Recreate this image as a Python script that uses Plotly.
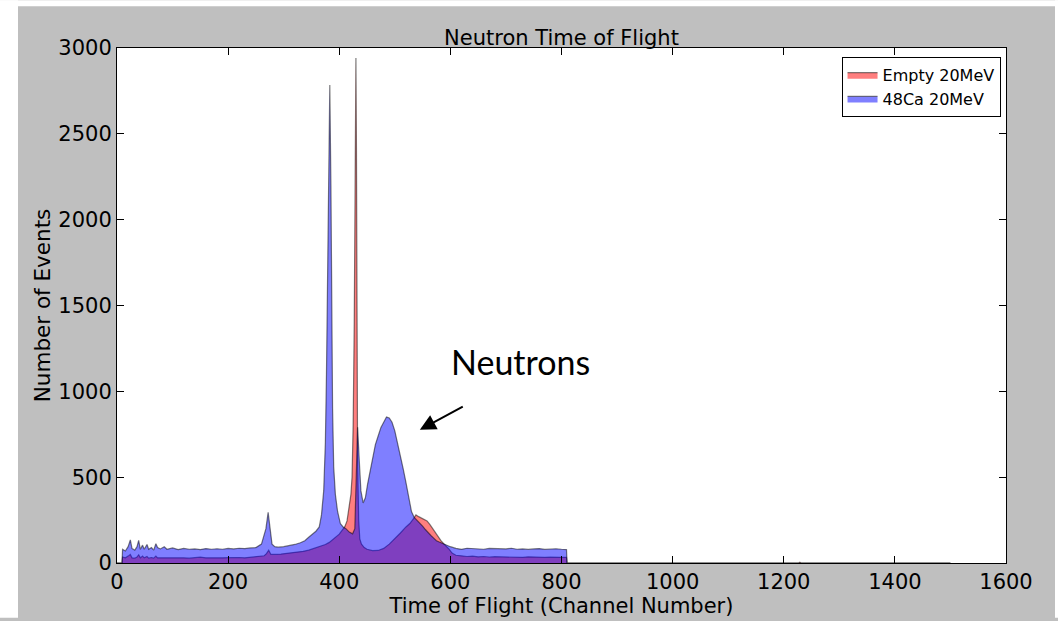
import plotly.graph_objects as go

# Channel and counts (outline vertices of each histogram)
empty_ch = [0, 9, 10, 15, 20, 24, 27, 32, 36, 39, 42, 46, 49, 54, 57, 62, 66, 70, 73, 80, 90, 100, 110, 120,
            130, 140, 150, 160, 170, 180, 190, 200, 210, 220, 230, 240, 250, 258, 265, 269, 273, 277, 282, 288,
            295, 305, 315, 325, 335, 345, 355, 365, 375, 382, 388, 394, 400, 405, 410, 414, 418, 421, 423,
            425, 427, 429, 430, 431, 432, 433, 435, 437, 440, 445, 450, 455, 460, 470, 480, 490, 500, 510,
            520, 527, 533, 538, 543, 548, 553, 558, 563, 568, 573, 578, 583, 588, 593, 598, 603, 610,
            620, 630, 640, 650, 660, 670, 680, 690, 700, 710, 720, 730, 740, 750, 760, 770, 780, 790, 800,
            809, 810, 1227, 1229, 1231, 1500]
empty_counts = [0, 0, 35, 30, 40, 50, 30, 28, 35, 48, 30, 40, 30, 38, 28, 32, 28, 40, 30, 30, 33, 29, 32, 30,
                28, 31, 34, 30, 29, 32, 30, 31, 33, 32, 30, 33, 36, 38, 42, 55, 75, 50, 48, 50,
                52, 55, 58, 62, 68, 75, 85, 95, 108, 120, 135, 150, 168, 190, 212, 245, 320, 400, 500,
                800, 1400, 2300, 2942, 2400, 1300, 600, 250, 140, 110, 90, 80, 75, 72, 73, 85, 110, 140, 175,
                210, 230, 255, 280, 270, 262, 255, 245, 225, 200, 175, 150, 130, 112, 98, 80, 58, 45,
                42, 38, 40, 36, 38, 35, 37, 36, 34, 37, 35, 33, 36, 34, 35, 33, 34, 32, 33,
                33, 0, 0, 4, 0, 0]

ca48_ch = [0, 9, 10, 15, 20, 24, 27, 32, 36, 39, 42, 46, 49, 54, 57, 62, 66, 70, 73, 78, 85, 90, 100,
           110, 120, 130, 140, 150, 160, 170, 180, 190, 200, 210, 220, 230, 240, 250, 260, 268,
           272, 276, 279, 284, 290, 300, 310, 320, 330, 338, 345, 352, 358, 364, 368, 372, 375,
           377, 379, 381, 383, 385, 386, 388, 390, 393, 397, 402, 407, 412, 418, 424, 428, 431,
           433, 436, 439, 443, 447, 451, 455, 460, 465, 470, 475, 480, 485, 490, 495, 500, 505,
           510, 515, 520, 525, 530, 535, 540, 545, 550, 555, 560, 565, 570, 575, 580, 590, 600,
           610, 620, 630, 640, 650, 660, 670, 680, 690, 700, 710, 720, 730, 740, 750, 760, 770, 780,
           790, 800, 809, 810, 1500]
ca48_counts = [0, 0, 80, 70, 95, 135, 85, 75, 95, 132, 80, 104, 80, 108, 80, 90, 75, 112, 90, 82, 95, 80, 88,
               78, 85, 80, 82, 78, 84, 80, 83, 80, 85, 82, 86, 84, 88, 90, 110, 200,
               295, 180, 110, 95, 92, 95, 100, 108, 118, 130, 150, 170, 185, 210, 280, 420, 700,
               1100, 1700, 2400, 2785, 2200, 1500, 900, 560, 400, 300, 230, 210, 200, 180, 170, 200, 500,
               790, 600, 420, 350, 380, 460, 520, 610, 690, 740, 790, 820, 850, 845, 820, 770, 700,
               620, 550, 470, 390, 300, 265, 249, 235, 215, 195, 175, 160, 145, 130, 122, 108, 95,
               85, 80, 86, 84, 79, 80, 85, 83, 80, 82, 86, 80, 82, 79, 82, 84, 79, 81,
               83, 80, 78, 0, 0]

x_ticks = [0, 200, 400, 600, 800, 1000, 1200, 1400, 1600]
y_ticks = [0, 500, 1000, 1500, 2000, 2500, 3000]

FONT = "DejaVu Sans"
GRAY = "#bfbfbf"

fig = go.Figure()
fig.add_trace(go.Scatter(
    x=empty_ch, y=empty_counts, name="Empty 20MeV", mode="lines",
    line=dict(shape="linear", color="rgba(0,0,0,0.5)", width=1.2),
    fill="tozeroy", fillcolor="rgba(255,0,0,0.5)", hoverinfo="x+y"))
fig.add_trace(go.Scatter(
    x=ca48_ch, y=ca48_counts, name="48Ca 20MeV", mode="lines",
    line=dict(shape="linear", color="rgba(0,0,0,0.5)", width=1.2),
    fill="tozeroy", fillcolor="rgba(0,0,255,0.5)", hoverinfo="x+y"))

axis_common = dict(showline=True, linecolor="black", linewidth=1, mirror="allticks",
                   ticks="inside", ticklen=7, tickcolor="black", showgrid=False,
                   zeroline=False, tickfont=dict(family=FONT, size=21, color="black"))

fig.update_layout(
    width=1058, height=621,
    paper_bgcolor=GRAY, plot_bgcolor="white",
    margin=dict(l=117, r=52, t=48, b=55),
    title=dict(text="Neutron Time of Flight", x=0.5, xref="paper", xanchor="center",
               y=1, yref="paper", yanchor="bottom", pad=dict(b=3),
               font=dict(family=FONT, size=21, color="black")),
    xaxis=dict(range=[0, 1600], tickvals=x_ticks, ticklabelstandoff=0,
               title=dict(text="Time of Flight (Channel Number)", standoff=0,
                          font=dict(family=FONT, size=21, color="black")),
               **axis_common),
    yaxis=dict(range=[0, 3000], tickvals=y_ticks, ticklabelstandoff=0,
               title=dict(text="Number of Events", standoff=1,
                          font=dict(family=FONT, size=21.5, color="black")),
               **axis_common),
    legend=dict(x=0.815, y=0.983, xanchor="left", yanchor="top",
                bgcolor="white", bordercolor="black", borderwidth=1,
                font=dict(family=FONT, size=16, color="black"),
                tracegroupgap=0),
    showlegend=True,
)

# White strips at the picture's edges (outside the gray figure)
W, H = 889.0, 518.0
def px_x(p): return (p - 117) / W
def px_y(p): return (566 - p) / H
fig.add_shape(type="rect", xref="paper", yref="paper", x0=px_x(0), x1=px_x(1058),
              y0=px_y(6), y1=px_y(0), fillcolor="white", line=dict(width=0), layer="above")
fig.add_shape(type="rect", xref="paper", yref="paper", x0=px_x(0), x1=px_x(18),
              y0=px_y(621), y1=px_y(0), fillcolor="white", line=dict(width=0), layer="above")
fig.add_shape(type="rect", xref="paper", yref="paper", x0=px_x(1055), x1=px_x(1058),
              y0=px_y(621), y1=px_y(0), fillcolor="white", line=dict(width=0), layer="above")

# "Neutrons" label and arrow
fig.add_annotation(text="Neutrons", x=727, y=1175, xref="x", yref="y", showarrow=False,
                   font=dict(family="Lato", size=34, color="black"))
fig.add_annotation(text="", x=545, y=776, xref="x", yref="y", ax=625, ay=915,
                   axref="x", ayref="y", showarrow=True, arrowhead=2, arrowsize=1.6,
                   arrowwidth=2, arrowcolor="black")

fig.write_html("out.html")
